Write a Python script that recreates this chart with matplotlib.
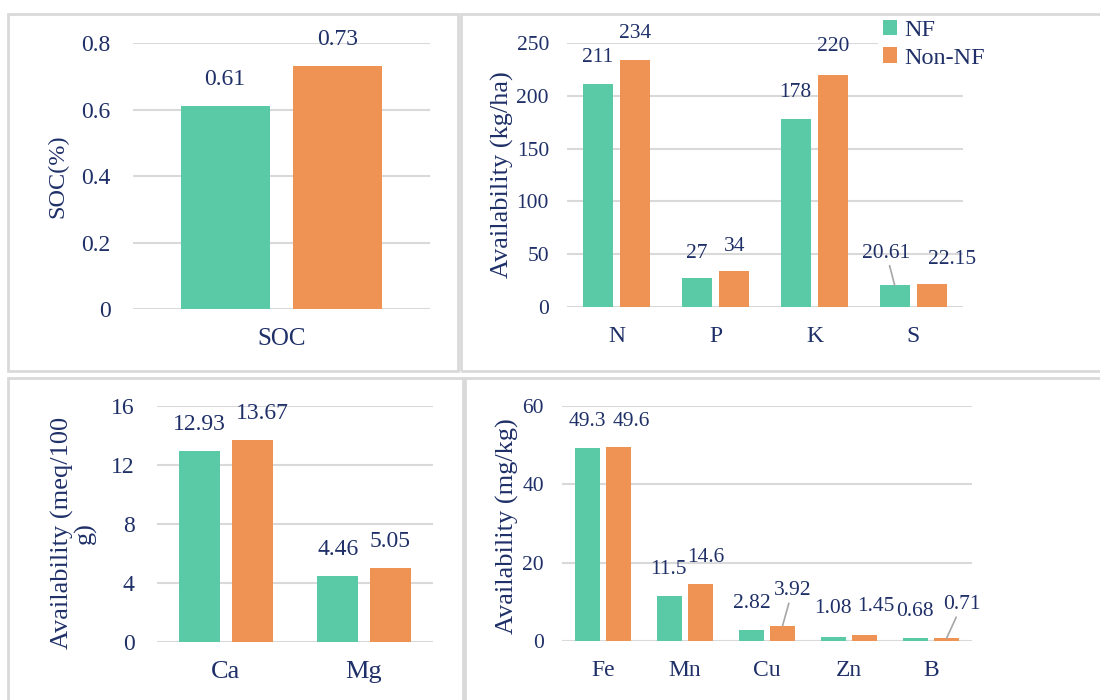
import matplotlib
matplotlib.use("Agg")
import matplotlib.pyplot as plt
from matplotlib.patches import Rectangle
import numpy as np

# data
soc_cats = ["SOC"]
soc_nf = [0.61]
soc_non = [0.73]

npk_cats = ["N", "P", "K", "S"]
npk_nf = [211, 27, 178, 20.61]
npk_non = [234, 34, 220, 22.15]
npk_nf_lbl = ["211", "27", "178", "20.61"]
npk_non_lbl = ["234", "34", "220", "22.15"]

camg_cats = ["Ca", "Mg"]
camg_nf = [12.93, 4.46]
camg_non = [13.67, 5.05]

micro_cats = ["Fe", "Mn", "Cu", "Zn", "B"]
micro_nf = [49.3, 11.5, 2.82, 1.08, 0.68]
micro_non = [49.6, 14.6, 3.92, 1.45, 0.71]

GREEN = "#5AC9A6"
ORANGE = "#EF9355"
TXT = "#1F3068"
GRID = "#D9D9D9"

plt.rcParams["font.family"] = ["Liberation Serif", "DejaVu Serif"]
plt.rcParams["text.color"] = TXT

W, H = 1100, 700
fig = plt.figure(figsize=(11, 7), dpi=100)


def px_axes(x0, y0, x1, y1):
    return fig.add_axes([x0 / W, 1 - y1 / H, (x1 - x0) / W, (y1 - y0) / H])


def px_border(x0, y0, x1, y1):
    fig.patches.append(Rectangle((x0 / W, 1 - y1 / H), (x1 - x0) / W, (y1 - y0) / H,
                                 transform=fig.transFigure, fill=False,
                                 edgecolor=GRID, lw=2))


px_border(8, 14, 458, 371)
px_border(461, 14, 1104, 371)
px_border(8, 378, 463, 706)
px_border(465, 378, 1104, 706)


def panel(ax, cats, nf, non, ymax, step, ylabel, ypad, fmt, fs_num, fs_cat, fs_lab,
          nf_lbl=None, non_lbl=None, nf_off=None, non_off=None, leaders=()):
    x = np.arange(len(cats))
    d = 0.19
    w = 0.3
    ax.bar(x - d, nf, w, color=GREEN, label="NF", zorder=3)
    ax.bar(x + d, non, w, color=ORANGE, label="Non-NF", zorder=3)
    ax.set_xlim(-0.5, len(cats) - 0.5)
    ax.set_ylim(0, ymax)
    ax.set_yticks(np.arange(0, ymax + step / 2, step))
    ax.yaxis.set_major_formatter(fmt)
    ax.set_xticks(x)
    ax.set_xticklabels(cats, fontsize=fs_cat)
    ax.tick_params(length=0, colors=TXT)
    ax.tick_params(axis="y", pad=ypad, labelsize=fs_num)
    ax.tick_params(axis="x", pad=14)
    for s in ax.spines.values():
        s.set_visible(False)
    ax.grid(axis="y", color=GRID, lw=1.5, zorder=0)
    ax.set_axisbelow(True)
    ax.set_ylabel(ylabel, color=TXT, fontsize=fs_lab, multialignment="center",
                  va="center", linespacing=1.0)
    if nf_lbl is None:
        nf_lbl = [f"{v:g}" for v in nf]
    if non_lbl is None:
        non_lbl = [f"{v:g}" for v in non]
    if nf_off is None:
        nf_off = [(0, 19)] * len(cats)
    if non_off is None:
        non_off = [(0, 19)] * len(cats)
    for i in range(len(cats)):
        for xs, v, lbl, off, key in ((x[i] - d, nf[i], nf_lbl[i], nf_off[i], ("nf", i)),
                                      (x[i] + d, non[i], non_lbl[i], non_off[i], ("non", i))):
            kw = {}
            if key in leaders:
                kw["arrowprops"] = dict(arrowstyle="-", color="#A6A6A6", lw=1.2,
                                        shrinkA=0, shrinkB=0)
            ax.annotate(lbl, (xs, v), xytext=off, textcoords="offset points",
                        ha="center", va="center", color=TXT, fontsize=fs_num, **kw)


# panel 1
ax1 = px_axes(133, 43, 430, 309)
panel(ax1, soc_cats, soc_nf, soc_non, 0.8, 0.2, "SOC(%)", 16,
      matplotlib.ticker.FuncFormatter(lambda v, p: "0" if v == 0 else f"{v:.1f}"),
      17, 18, 17.5)
ax1.yaxis.set_label_coords(-0.253, 0.5)

# panel 2
ax2 = px_axes(567, 43, 963, 307)
panel(ax2, npk_cats, npk_nf, npk_non, 250, 50, "Availability (kg/ha)", 13,
      matplotlib.ticker.FuncFormatter(lambda v, p: f"{v:.0f}"),
      15.5, 17, 19,
      nf_lbl=npk_nf_lbl, non_lbl=npk_non_lbl,
      nf_off=[(0, 19), (0, 18), (0, 19), (-6, 23)],
      non_off=[(0, 19), (0, 18), (0, 20), (14, 17)],
      leaders=[("nf", 3)])
ax2.yaxis.set_label_coords(-0.164, 0.5)
leg = ax2.legend(loc="upper left", bbox_to_anchor=(878 / W, 1 - 15 / H),
                 bbox_transform=fig.transFigure, frameon=True, fancybox=False,
                 edgecolor="none", facecolor="white", framealpha=1,
                 handlelength=0.6, handleheight=0.6, handletextpad=0.3,
                 labelspacing=0.25, borderpad=0.2, borderaxespad=0, fontsize=17.5)
for t in leg.get_texts():
    t.set_color(TXT)

# panel 3
ax3 = px_axes(157, 406, 433, 642)
panel(ax3, camg_cats, camg_nf, camg_non, 16, 4, "Availability (meq/100\ng)", 16,
      matplotlib.ticker.FuncFormatter(lambda v, p: f"{v:.0f}"),
      17, 19, 19,
      nf_lbl=["12.93", "4.46"], non_lbl=["13.67", "5.05"],
      non_off=[(7, 19), (0, 19)])
ax3.yaxis.set_label_coords(-0.30, 0.462)

# panel 4
ax4 = px_axes(562, 406, 972, 641)
panel(ax4, micro_cats, micro_nf, micro_non, 60, 20, "Availability (mg/kg)", 13,
      matplotlib.ticker.FuncFormatter(lambda v, p: f"{v:.0f}"),
      15.5, 17, 19,
      nf_lbl=["49.3", "11.5", "2.82", "1.08", "0.68"],
      non_lbl=["49.6", "14.6", "3.92", "1.45", "0.71"],
      nf_off=[(0, 19), (-1, 19), (0, 19), (0, 20), (0, 19)],
      non_off=[(9, 18), (4, 19), (7, 25), (8, 21), (11, 24)],
      leaders=[("non", 2), ("non", 4)])
ax4.yaxis.set_label_coords(-0.134, 0.49)

fig.savefig("out.png", dpi=100, facecolor="white")
